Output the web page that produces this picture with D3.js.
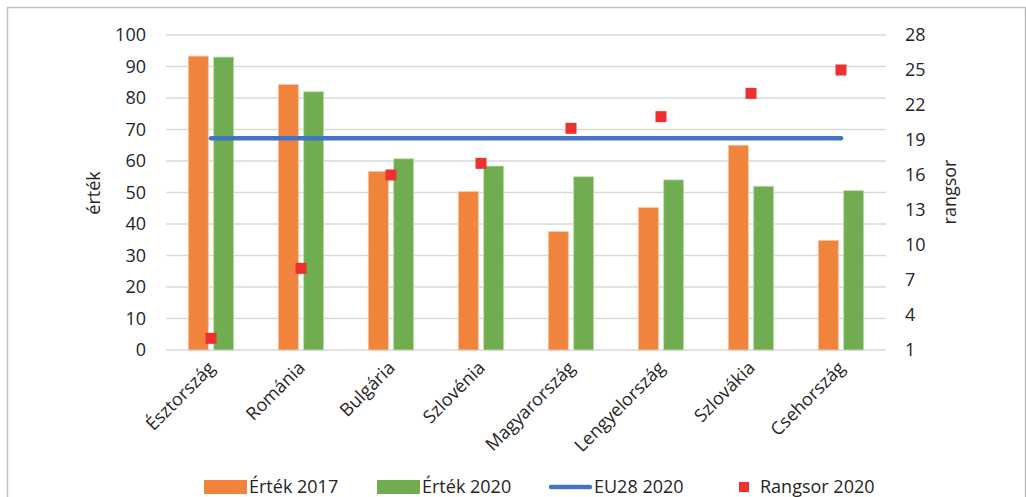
<!DOCTYPE html>
<html>
<head>
<meta charset="utf-8">
<script src="https://cdn.jsdelivr.net/npm/d3@7"></script>
<style>
  html, body { margin: 0; padding: 0; background: #fff; }
  svg { display: block; font-family: "Open Sans", "Noto Sans", sans-serif; }
</style>
</head>
<body>
<svg id="chart" width="1026" height="497"></svg>
<script>
// Országok és értékek
const countries = ["Észtország", "Románia", "Bulgária", "Szlovénia", "Magyarország", "Lengyelország", "Szlovákia", "Csehország"];
const value2017 = [93.3, 84.3, 56.7, 50.3, 37.6, 45.2, 65.0, 34.8];
const value2020 = [93.0, 82.0, 60.7, 58.4, 55.0, 54.0, 52.0, 50.6];
const eu28 = [67.2, 67.2, 67.2, 67.2, 67.2, 67.2, 67.2, 67.2];
const rank2020 = [2, 8, 16, 17, 20, 21, 23, 25];
const leftTicks = [0, 10, 20, 30, 40, 50, 60, 70, 80, 90, 100];
const rightTicks = [1, 4, 7, 10, 13, 16, 19, 22, 25, 28];
const seriesNames = ["Érték 2017", "Érték 2020", "EU28 2020", "Rangsor 2020"];

const colors = { o: "#F0843C", g: "#70AD50", b: "#4472C4", r: "#EE3030" };
const fs = 18;

const svg = d3.select("#chart");

// chart frame
svg.append("rect")
  .attr("x", 7.5).attr("y", 7.5).attr("width", 1018).attr("height", 520)
  .attr("fill", "none").attr("stroke", "#BFBFBF").attr("stroke-width", 1.5);

const plot = { left: 166, right: 886, top: 35, bottom: 350 };

const x = d3.scaleBand().domain(countries).range([plot.left, plot.right]).padding(0);
const xInner = d3.scaleBand().domain(["2017", "2020"]).range([-22.7, 22.7]).paddingInner(0.21);
const y = d3.scaleLinear().domain([0, 100]).range([plot.bottom, plot.top]);
const yRank = d3.scaleLinear().domain([1, 28]).range([plot.bottom, plot.top]);

// gridlines
svg.append("g").selectAll("line").data(leftTicks).join("line")
  .attr("x1", plot.left).attr("x2", plot.right)
  .attr("y1", d => y(d)).attr("y2", d => y(d))
  .attr("stroke", "#D9D9D9").attr("stroke-width", 1.3);

// left axis
const leftAxis = svg.append("g")
  .attr("transform", `translate(${plot.left},0)`)
  .call(d3.axisLeft(y).tickValues(leftTicks).tickSize(0).tickPadding(20));
leftAxis.select(".domain").remove();
leftAxis.selectAll("text").attr("font-size", fs).attr("fill", "#262626")
  .attr("font-family", "'Open Sans', sans-serif");

// right axis
const rightAxis = svg.append("g")
  .attr("transform", `translate(${plot.right},0)`)
  .call(d3.axisRight(yRank).tickValues(rightTicks).tickSize(0).tickPadding(19));
rightAxis.select(".domain").remove();
rightAxis.selectAll("text").attr("font-size", fs).attr("fill", "#262626")
  .attr("font-family", "'Open Sans', sans-serif");

// axis titles
svg.append("text")
  .attr("transform", "translate(100,193) rotate(-90)")
  .attr("text-anchor", "middle").attr("font-size", fs).attr("fill", "#262626")
  .text("érték");
svg.append("text")
  .attr("transform", "translate(956,192) rotate(-90)")
  .attr("text-anchor", "middle").attr("font-size", fs).attr("fill", "#262626")
  .text("rangsor");

// bars
const bars = svg.append("g");
bars.selectAll("rect.b17").data(countries).join("rect")
  .attr("class", "b17")
  .attr("x", (d) => x(d) + x.bandwidth() / 2 + xInner("2017"))
  .attr("width", xInner.bandwidth())
  .attr("y", (d, i) => y(value2017[i]))
  .attr("height", (d, i) => y(0) - y(value2017[i]))
  .attr("fill", colors.o).attr("stroke", "#F9C9A8").attr("stroke-width", 0.8);
bars.selectAll("rect.b20").data(countries).join("rect")
  .attr("class", "b20")
  .attr("x", (d) => x(d) + x.bandwidth() / 2 + xInner("2020"))
  .attr("width", xInner.bandwidth())
  .attr("y", (d, i) => y(value2020[i]))
  .attr("height", (d, i) => y(0) - y(value2020[i]))
  .attr("fill", colors.g).attr("stroke", "#C3DEB2").attr("stroke-width", 0.8);

// EU28 line
const line = d3.line()
  .x((d, i) => x(countries[i]) + x.bandwidth() / 2)
  .y(d => y(d));
svg.append("path").datum(eu28)
  .attr("d", line)
  .attr("fill", "none").attr("stroke", colors.b).attr("stroke-width", 4.5)
  .attr("stroke-linecap", "round");

// rank markers
const ms = 11;
svg.append("g").selectAll("rect").data(rank2020).join("rect")
  .attr("x", (d, i) => x(countries[i]) + x.bandwidth() / 2 - ms / 2)
  .attr("y", d => yRank(d) - ms / 2)
  .attr("width", ms).attr("height", ms)
  .attr("fill", colors.r);

// category labels
svg.append("g").selectAll("text").data(countries).join("text")
  .attr("transform", d => `translate(${x(d) + x.bandwidth() / 2 + 5},369) rotate(-45)`)
  .attr("text-anchor", "end")
  .attr("font-size", fs).attr("fill", "#262626")
  .text(d => d);

// legend
const legend = svg.append("g").attr("font-size", fs).attr("fill", "#262626");
const ly = 487;
const legendItems = [
  { name: seriesNames[0], x: 204, type: "bar", color: colors.o },
  { name: seriesNames[1], x: 377, type: "bar", color: colors.g },
  { name: seriesNames[2], x: 549, type: "line", color: colors.b },
  { name: seriesNames[3], x: 739, type: "marker", color: colors.r }
];
legendItems.forEach(it => {
  if (it.type === "bar") {
    legend.append("rect").attr("x", it.x).attr("y", ly - 7).attr("width", 43).attr("height", 14).attr("fill", it.color);
    legend.append("text").attr("x", it.x + 45).attr("y", ly).attr("dy", "0.35em").text(it.name);
  } else if (it.type === "line") {
    legend.append("line").attr("x1", it.x + 2).attr("x2", it.x + 41).attr("y1", ly).attr("y2", ly)
      .attr("stroke", it.color).attr("stroke-width", 4.5).attr("stroke-linecap", "round");
    legend.append("text").attr("x", it.x + 45).attr("y", ly).attr("dy", "0.35em").text(it.name);
  } else {
    legend.append("rect").attr("x", it.x).attr("y", ly - 5).attr("width", 10).attr("height", 10).attr("fill", it.color);
    legend.append("text").attr("x", it.x + 21).attr("y", ly).attr("dy", "0.35em").text(it.name);
  }
});
</script>
</body>
</html>
